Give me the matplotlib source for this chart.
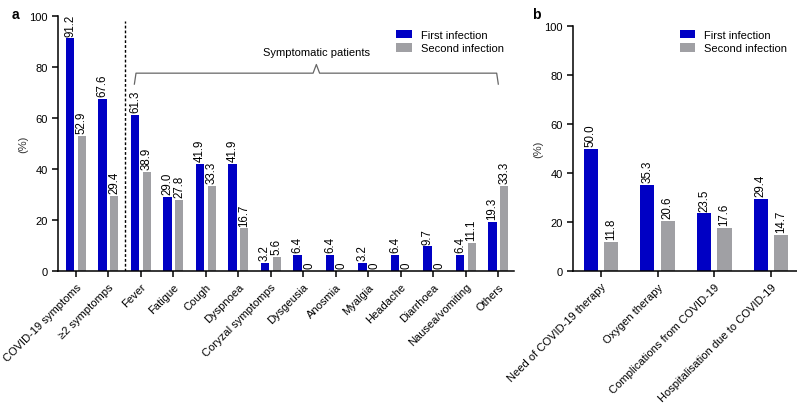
import numpy as np
import matplotlib
matplotlib.use("Agg")
import matplotlib.pyplot as plt

plt.rcParams['font.family'] = ['Liberation Sans', 'DejaVu Sans']

# Panel a data
symptoms = ['COVID-19 symptoms', '≥2 symptomps', 'Fever', 'Fatigue', 'Cough', 'Dyspnoea',
            'Coryzal symptomps', 'Dysgeusia', 'Anosmia', 'Myalgia', 'Headache', 'Diarrhoea',
            'Nausea/vomiting', 'Others']
first_a = [91.2, 67.6, 61.3, 29.0, 41.9, 41.9, 3.2, 6.4, 6.4, 3.2, 6.4, 9.7, 6.4, 19.3]
second_a = [52.9, 29.4, 38.9, 27.8, 33.3, 16.7, 5.6, 0, 0, 0, 0, 0, 11.1, 33.3]

# Panel b data
outcomes = ['Need of COVID-19 therapy', 'Oxygen therapy', 'Complications from COVID-19',
            'Hospitalisation due to COVID-19']
first_b = [50.0, 35.3, 23.5, 29.4]
second_b = [11.8, 20.6, 17.6, 14.7]

BLUE = '#0000c4'
GREY = '#a0a0a4'


def fmt(v):
    return '0' if v == 0 else f'{v:.1f}'


def draw_panel(ax, labels, first, second, width, off, legend_y):
    x = np.arange(len(labels))
    b1 = ax.bar(x - off, first, width, color=BLUE, label='First infection')
    b2 = ax.bar(x + off, second, width, color=GREY, label='Second infection')
    for bars, vals in ((b1, first), (b2, second)):
        for rect, v in zip(bars, vals):
            ax.annotate(fmt(v), (rect.get_x() + rect.get_width() / 2, v),
                        xytext=(0, 2), textcoords='offset points',
                        ha='center', va='bottom', rotation=90, fontsize=8.3)
    ax.set_ylim(0, 100)
    ax.set_yticks([0, 20, 40, 60, 80, 100])
    ax.set_xticks(x)
    ax.set_xticklabels(labels, rotation=45, ha='right', rotation_mode='anchor', fontsize=8)
    ax.tick_params(axis='y', labelsize=8, width=1.1, length=4)
    ax.tick_params(axis='x', width=1.1, length=4)
    ax.spines['top'].set_visible(False)
    ax.spines['right'].set_visible(False)
    ax.spines['left'].set_linewidth(1.1)
    ax.spines['bottom'].set_linewidth(1.1)
    ax.set_ylabel('(%)', fontsize=8, color='#333333', labelpad=0.5)
    ax.legend(loc='upper right', frameon=False, fontsize=8, handlelength=1.4,
              handleheight=0.8, labelspacing=0.3, bbox_to_anchor=(1.0, legend_y))


fig = plt.figure(figsize=(7.97, 4.06), dpi=100)
ax_a = fig.add_axes([0.0728, 0.330, 0.572, 0.628])
ax_b = fig.add_axes([0.719, 0.330, 0.281, 0.6035])

draw_panel(ax_a, symptoms, first_a, second_a, 0.25, 0.18, 0.985)
ax_a.set_xlim(-0.55, 13.48)

# dashed separator and brace for symptomatic patients
ax_a.plot([1.5, 1.5], [0, 98], ls=(0, (2, 1.5)), color='black', lw=1.0)
brace_col = '#666666'
ax_a.plot([1.8, 1.85, 7.3, 7.4, 7.5, 12.95, 13.0],
          [73.3, 77.6, 77.6, 81.0, 77.6, 77.6, 73.3], color=brace_col, lw=0.9)
ax_a.text(7.4, 84, 'Symptomatic patients', ha='center', va='bottom', fontsize=8)

draw_panel(ax_b, outcomes, first_b, second_b, 0.25, 0.18, 1.025)
ax_b.set_xlim(-0.49, 3.46)

fig.text(0.015, 0.98, 'a', fontsize=10, fontweight='bold', va='top')
fig.text(0.667, 0.98, 'b', fontsize=10, fontweight='bold', va='top')

fig.savefig('out.png', dpi=100)
